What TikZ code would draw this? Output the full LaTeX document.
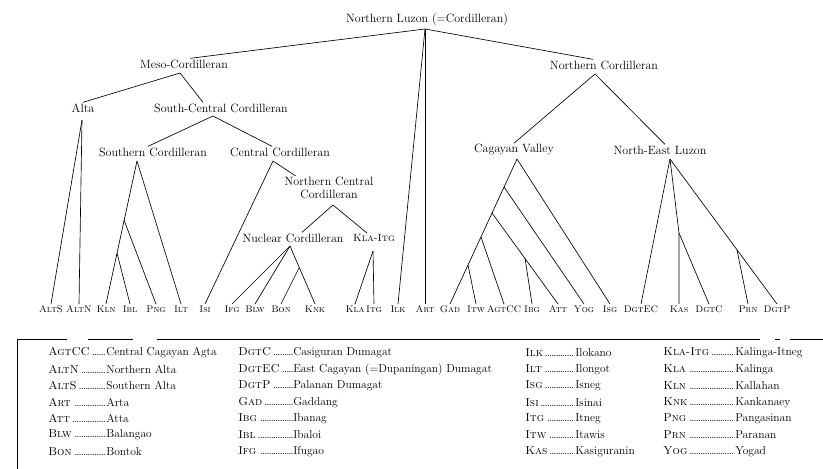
\documentclass[tikz,border=0pt]{standalone}
\usepackage{tikz}
\usetikzlibrary{positioning}
\newcommand{\legdots}{\leaders\hbox to 2.2pt{\hss.\hss}\hfill}
\newcommand{\legent}[3]{\makebox[#1][l]{\textsc{#2}\,\legdots}#3}

\begin{document}
\begin{tikzpicture}[x=1pt,y=-1pt,line width=0.65pt,
  grp/.style={font=\fontsize{12}{13}\selectfont, inner sep=1pt},
  lf/.style={font=\fontsize{9.6}{11}\selectfont\scshape, inner sep=1pt, text height=7pt, text depth=0pt, anchor=north},
  leg/.style={font=\fontsize{11.5}{13}\selectfont, anchor=west, inner sep=0pt}]
  \useasboundingbox (0,0) rectangle (823,469);
  \node[grp] (root) at (427,20) {Northern Luzon (=Cordilleran)};
  \node[grp] (meso) at (184,64) {Meso-Cordilleran};
  \node[grp] (ncord) at (604,65) {Northern Cordilleran};
  \node[grp] (alta) at (83,108) {Alta};
  \node[grp] (scc) at (221,108) {South-Central Cordilleran};
  \node[grp] (scord) at (153,152) {Southern Cordilleran};
  \node[grp] (ccord) at (280,152) {Central Cordilleran};
  \node[grp, align=center] (ncc) at (329,188) {Northern Central\\Cordilleran};
  \node[grp] (nuc) at (293,238) {Nuclear Cordilleran};
  \node[grp, font=\fontsize{10.5}{12}\selectfont] (klaitg) at (374,238) {\textsc{Kla-Itg}};
  \node[grp] (cagv) at (514,150) {Cagayan Valley};
  \node[grp] (nel) at (660,150) {North-East Luzon};
  \foreach \nm/\lab/\x in {alts/AltS/51, altn/AltN/79, kln/Kln/106, ibl/Ibl/130, png/Png/156,
    ilt/Ilt/181, isi/Isi/205, ifg/Ifg/232, blw/Blw/255, bon/Bon/281, knk/Knk/315, kla/Kla/355,
    itg/Itg/374, ilk/Ilk/398, art/Art/425, gad/Gad/450, itw/Itw/476, agtcc/AgtCC/504, ibg/Ibg/532,
    att/Att/558, yog/Yog/584, isg/Isg/610, dgtec/DgtEC/641, kas/Kas/679, dgtc/DgtC/709,
    prn/Prn/748, dgtp/DgtP/777}
    \node[lf] (\nm) at (\x,304) {\lab};
  \coordinate (r0) at (425,29);
  \coordinate (m0) at (180,73);
  \coordinate (a0) at (82,120);
  \coordinate (sc0) at (213,116);
  \coordinate (s0) at (137,161);
  \coordinate (s1) at (124,220);
  \coordinate (s2) at (117,253);
  \coordinate (c0) at (273,161);
  \coordinate (n0) at (333,205);
  \coordinate (u0) at (290,246);
  \coordinate (u1) at (299,268);
  \coordinate (k0) at (373,251);
  \coordinate (nc0) at (595,74);
  \coordinate (v0) at (517,159);
  \coordinate (v1) at (504,187);
  \coordinate (v2) at (492,213);
  \coordinate (v3) at (481,237);
  \coordinate (v4) at (468,265);
  \coordinate (w0) at (525,258);
  \coordinate (e0) at (670,159);
  \coordinate (e1) at (679,233);
  \coordinate (e2) at (737,250);
  \draw (r0) -- ([xshift=6]meso.north);
  \draw (r0) -- ([xshift=-11]ncord.north);
  \draw (r0) -- (ilk.north);
  \draw (r0) -- (art.north);
  \draw (m0) -- (alta.north);
  \draw (m0) -- ([xshift=-18]scc.north);
  \draw (a0) -- (alts.north);
  \draw (a0) -- (altn.north);
  \draw (sc0) -- ([xshift=-5]scord.north);
  \draw (sc0) -- ([xshift=-8]ccord.north);
  \draw (s0) -- (kln.north);
  \draw (s0) -- (ilt.north);
  \draw (s1) -- (png.north);
  \draw (s2) -- (ibl.north);
  \draw (c0) -- (isi.north);
  \draw (c0) -- (ncc.160);
  \draw (n0) -- ([xshift=9]nuc.north);
  \draw (n0) -- ([xshift=-7]klaitg.north);
  \draw (u0) -- (ifg.north);
  \draw (u0) -- (blw.north);
  \draw (u0) -- (knk.north);
  \draw (u1) -- (bon.north);
  \draw (k0) -- (kla.north);
  \draw (k0) -- (itg.north);
  \draw (nc0) -- (cagv.north);
  \draw (nc0) -- ([xshift=5]nel.north);
  \draw (v0) -- (gad.north);
  \draw (v0) -- (isg.north);
  \draw (v1) -- (yog.north);
  \draw (v2) -- (att.north);
  \draw (w0) -- (ibg.north);
  \draw (v3) -- (agtcc.north);
  \draw (v4) -- (itw.north);
  \draw (e0) -- (dgtec.north);
  \draw (e0) -- (e1) -- (kas.north);
  \draw (e1) -- (dgtc.north);
  \draw (e0) -- (dgtp.north);
  \draw (e2) -- (prn.north);
  \coordinate (bx) at (17,339);
  \coordinate (by) at (823,339);
  \coordinate (bz) at (17,469);
  \draw[line width=0.5pt, dash pattern=on 50pt off 21pt on 45pt off 24pt on 603pt off 15pt on 5pt off 10pt on 40pt] (bx) -- (by);
  \draw[line width=0.5pt] (bx) -- (bz);
  \foreach \i/\a/\b in {0/AgtCC/Central Cagayan Agta, 1/AltN/Northern Alta, 2/AltS/Southern Alta,
    3/Art/Arta, 4/Att/Atta, 5/Blw/Balangao, 6/Bon/Bontok}
    \node[leg] (la\i) at (48,{353+16.4*\i}) {\legent{58pt}{\a}{\b}};
  \foreach \i/\a/\b in {0/DgtC/Casiguran Dumagat, 1/DgtEC/{East Cagayan (=Dupaningan) Dumagat},
    2/DgtP/Palanan Dumagat, 3/Gad/Gaddang, 4/Ibg/Ibanag, 5/Ibl/Ibaloi, 6/Ifg/Ifugao}
    \node[leg] (lb\i) at (238,{353+16.4*\i}) {\legent{55pt}{\a}{\b}};
  \foreach \i/\a/\b in {0/Ilk/Ilokano, 1/Ilt/Ilongot, 2/Isg/Isneg, 3/Isi/Isinai,
    4/Itg/Itneg, 5/Itw/Itawis, 6/Kas/Kasiguranin}
    \node[leg] (lc\i) at (525,{353+16.4*\i}) {\legent{50pt}{\a}{\b}};
  \foreach \i/\a/\b in {0/Kla-Itg/Kalinga-Itneg, 1/Kla/Kalinga, 2/Kln/Kallahan, 3/Knk/Kankanaey,
    4/Png/Pangasinan, 5/Prn/Paranan, 6/Yog/Yogad}
    \node[leg] (ld\i) at (663,{353+16.4*\i}) {\legent{72pt}{\a}{\b}};
\end{tikzpicture}
\end{document}
